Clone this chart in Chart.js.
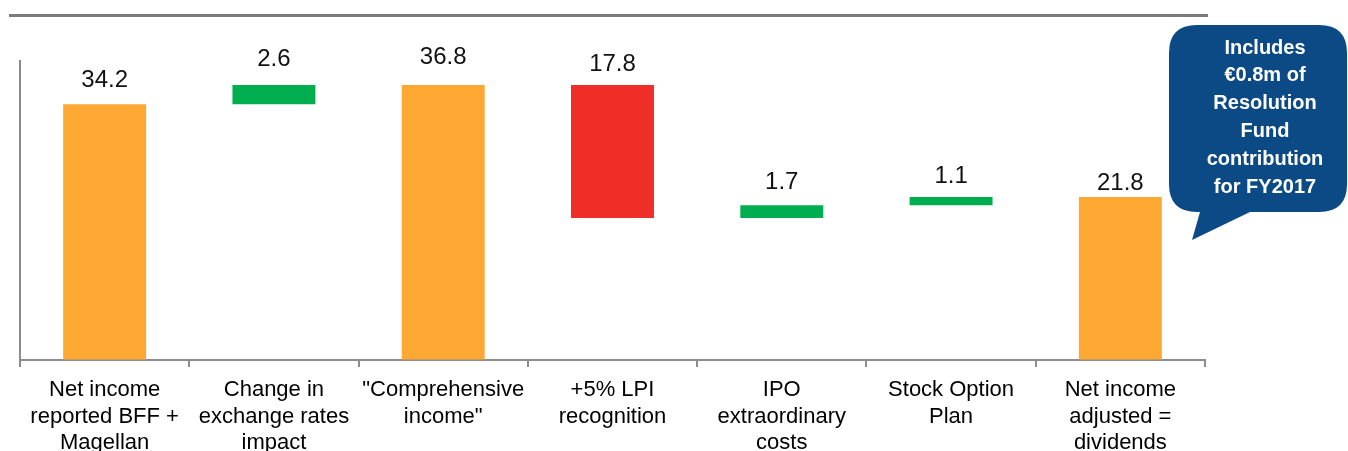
<!DOCTYPE html>
<html>
<head>
<meta charset="utf-8">
<script src="https://cdn.jsdelivr.net/npm/chart.js@4"></script>
<style>
  html, body { margin: 0; padding: 0; background: #ffffff; }
  #wrap { position: relative; width: 1348px; height: 451px; overflow: hidden; }
  canvas { display: block; }
</style>
</head>
<body>
<div id="wrap"><canvas id="c" width="1348" height="451"></canvas></div>
<script>
// Net income bridge (€m)
const categories = [
  ['Net income', 'reported BFF +', 'Magellan'],
  ['Change in', 'exchange rates', 'impact'],
  ['"Comprehensive', 'income"'],
  ['+5% LPI', 'recognition'],
  ['IPO', 'extraordinary', 'costs'],
  ['Stock Option', 'Plan'],
  ['Net income', 'adjusted =', 'dividends']
];
const values = [34.2, 2.6, 36.8, -17.8, 1.7, 1.1, 21.8];
const kinds = ['total', 'delta', 'total', 'delta', 'delta', 'delta', 'total'];
const calloutLines = ['Includes', '€0.8m of', 'Resolution', 'Fund', 'contribution', 'for FY2017'];

const COLORS = { total: '#FDA832', up: '#00AE50', down: '#EE2E27' };

// floating [low, high] ranges for the waterfall
let running = 0;
const ranges = values.map((v, i) => {
  if (kinds[i] === 'total') { running = v; return [0, v]; }
  const start = running;
  running += v;
  return [Math.min(start, running), Math.max(start, running)];
});
const barColors = values.map((v, i) =>
  kinds[i] === 'total' ? COLORS.total : (v >= 0 ? COLORS.up : COLORS.down));

Chart.defaults.font.family = '"Liberation Sans", Arial, sans-serif';
Chart.defaults.color = '#000000';

// value labels above each bar
const valueLabels = {
  id: 'valueLabels',
  afterDatasetsDraw(chart, args, opts) {
    const ctx = chart.ctx;
    const meta = chart.getDatasetMeta(0);
    ctx.save();
    ctx.font = '24px "Liberation Sans", Arial, sans-serif';
    ctx.fillStyle = '#111111';
    ctx.textAlign = 'center';
    ctx.textBaseline = 'alphabetic';
    meta.data.forEach((bar, i) => {
      const top = Math.min(bar.y, bar.base);
      const gap = opts.gaps[i] ?? 16;
      ctx.fillText(Math.abs(values[i]).toFixed(1), bar.x, top - gap);
    });
    ctx.restore();
  }
};

// header rule and the blue speech-bubble note
const decorations = {
  id: 'decorations',
  afterDraw(chart) {
    const ctx = chart.ctx;
    ctx.save();
    // header rule
    ctx.strokeStyle = '#7b7b7b';
    ctx.lineWidth = 3;
    ctx.beginPath();
    ctx.moveTo(9, 15.5);
    ctx.lineTo(1208, 15.5);
    ctx.stroke();

    // speech bubble
    const x0 = 1169, y0 = 25, x1 = 1347, y1 = 212, r = 28;
    ctx.fillStyle = '#0B4A85';
    ctx.beginPath();
    ctx.moveTo(x0 + r, y0);
    ctx.lineTo(x1 - r, y0);
    ctx.quadraticCurveTo(x1, y0, x1, y0 + r);
    ctx.lineTo(x1, y1 - r);
    ctx.quadraticCurveTo(x1, y1, x1 - r, y1);
    ctx.lineTo(1250, y1);
    ctx.lineTo(1192, 240);
    ctx.lineTo(1200, y1);
    ctx.lineTo(x0 + r, y1);
    ctx.quadraticCurveTo(x0, y1, x0, y1 - r);
    ctx.lineTo(x0, y0 + r);
    ctx.quadraticCurveTo(x0, y0, x0 + r, y0);
    ctx.closePath();
    ctx.fill();

    ctx.fillStyle = '#ffffff';
    ctx.font = 'bold 20px "Liberation Sans", Arial, sans-serif';
    ctx.textAlign = 'center';
    ctx.textBaseline = 'middle';
    calloutLines.forEach((t, i) => ctx.fillText(t, 1265, 48 + i * 27.8));
    ctx.restore();
  }
};

new Chart(document.getElementById('c'), {
  type: 'bar',
  data: {
    labels: categories,
    datasets: [{
      data: ranges,
      backgroundColor: barColors,
      borderWidth: 0,
      borderSkipped: false,
      categoryPercentage: 1,
      barPercentage: 0.49
    }]
  },
  options: {
    responsive: false,
    animation: false,
    devicePixelRatio: 1,
    layout: { padding: { left: 20, right: 143, top: 61, bottom: 0 } },
    plugins: {
      legend: { display: false },
      tooltip: { enabled: false },
      valueLabels: { gaps: [17, 19, 21, 14, 16, 14.5, 7.5] }
    },
    scales: {
      x: {
        afterFit(scale) { scale.height = 91; },
        grid: {
          offset: true,
          drawOnChartArea: false,
          drawTicks: true,
          tickLength: 7,
          color: '#8c8c8c',
          lineWidth: 2
        },
        border: { display: true, color: '#8c8c8c', width: 2 },
        ticks: {
          maxRotation: 0,
          autoSkip: false,
          padding: 10,
          color: '#000000',
          font: { size: 22, lineHeight: 1.2 }
        }
      },
      y: {
        min: 0,
        max: 40,
        afterFit(scale) { scale.width = 0; },
        grid: { display: true, drawOnChartArea: false, drawTicks: false },
        border: { display: true, color: '#8c8c8c', width: 2 },
        ticks: { display: false }
      }
    }
  },
  plugins: [valueLabels, decorations]
});
</script>
</body>
</html>
